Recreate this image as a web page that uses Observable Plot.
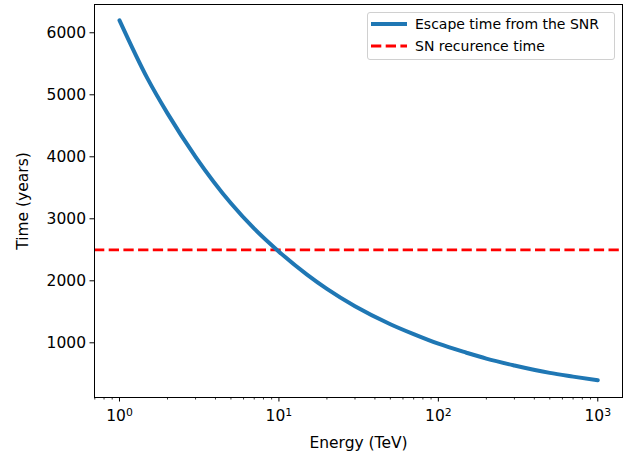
<!DOCTYPE html>
<html><head><meta charset="utf-8">
<script src="https://cdn.jsdelivr.net/npm/d3@7"></script>
<script src="https://cdn.jsdelivr.net/npm/@observablehq/plot@0.6"></script>
<style>
body{margin:0;background:#fff;font-family:"DejaVu Sans",sans-serif;}
#wrap{position:relative;width:632px;height:452px;}
#legend{position:absolute;left:367px;top:12px;width:248px;height:48px;border:1px solid #d0d0d0;border-radius:3px;background:rgba(255,255,255,0.8);box-sizing:border-box;font-size:14px;color:#000;}
.sw{position:absolute;left:3px;}
.lt{position:absolute;left:47px;line-height:16px;white-space:nowrap;}
</style></head><body>
<div id="wrap"></div>
<script>
// Escape time curve
const energy = [1, 1.5, 2, 3, 5, 7, 10, 15, 20, 30, 50, 70, 100, 150, 200, 300, 500, 700, 1000];
const escapeTime = [6200, 5260, 4700, 4000, 3250, 2840, 2470, 2100, 1870, 1590, 1300, 1140, 985, 840, 745, 635, 515, 455, 395];
const recurrenceTime = 2500;
const yTicks = [1000, 2000, 3000, 4000, 5000, 6000];
const xMajor = [1, 10, 100, 1000];
const xMajorExp = ["0", "1", "2", "3"];
const seriesNames = ["Escape time from the SNR", "SN recurence time"];

const data = energy.map((e, i) => ({e, t: escapeTime[i]}));
const xMinor = [];
for (const d of [0.1, 1, 10, 100, 1000]) for (let k = 2; k <= 9; k++) { const v = d * k; if (v >= 0.697 && v <= 1429) xMinor.push(v); }

const FS = 15.5;
const chart = Plot.plot({
  width: 632, height: 452,
  marginLeft: 94, marginRight: 10, marginTop: 4, marginBottom: 55,
  style: {fontFamily: "DejaVu Sans, sans-serif", fontSize: FS + "px", color: "#000", background: "#fff"},
  x: {type: "log", domain: [0.697, 1429]},
  y: {domain: [118, 6456]},
  marks: [
    Plot.ruleY([recurrenceTime], {stroke: "#ff0000", strokeWidth: 2.8, strokeDasharray: "10.3,4.4"}),
    Plot.line(data, {x: "e", y: "t", stroke: "#1f77b4", strokeWidth: 4, curve: "monotone-x"}),
    Plot.frame({stroke: "#000", strokeWidth: 1}),
    Plot.axisY({ticks: yTicks, tickSize: 4.5, tickPadding: 4, tickFormat: d => String(d), label: "Time (years)", labelAnchor: "center", labelArrow: "none", labelOffset: 78, fontSize: FS}),
    Plot.axisX({ticks: xMinor, tickSize: 2.5, tickFormat: () => "", label: null, strokeWidth: 0.8}),
    Plot.axisX({ticks: xMajor, tickSize: 4.5, tickPadding: 8, tickFormat: (d) => "10^" + xMajorExp[xMajor.indexOf(d)], label: "Energy (TeV)", labelAnchor: "center", labelArrow: "none", labelOffset: 50, fontSize: FS})
  ]
});
// render exponents as superscripts
d3.select(chart).selectAll("text").each(function() {
  const t = d3.select(this);
  const s = t.text();
  const m = /^10\^(\d)$/.exec(s);
  if (m) {
    t.text("");
    t.append("tspan").text("10");
    t.append("tspan").attr("font-size", "70%").attr("dy", "-0.5em").text(m[1]);
  }
});
const wrap = document.getElementById("wrap");
wrap.appendChild(chart);
const lg = document.createElement("div");
lg.id = "legend";
lg.innerHTML = `
<svg class="sw" style="top:4px" width="36" height="14"><line x1="0" y1="7" x2="36" y2="7" stroke="#1f77b4" stroke-width="4"/></svg><div class="lt" style="top:3px">${seriesNames[0]}</div>
<svg class="sw" style="top:26px" width="36" height="14"><line x1="0" y1="7" x2="36" y2="7" stroke="#ff0000" stroke-width="2.8" stroke-dasharray="10.3,4.4"/></svg><div class="lt" style="top:25px">${seriesNames[1]}</div>`;
wrap.appendChild(lg);
</script>
</body></html>
